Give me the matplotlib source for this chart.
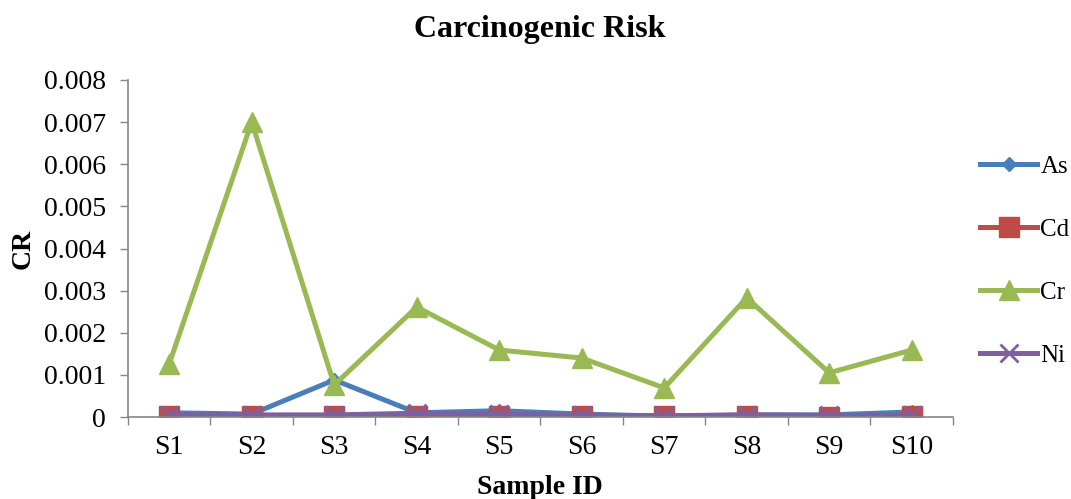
import numpy as np
import matplotlib
matplotlib.use("Agg")
import matplotlib.pyplot as plt

plt.rcParams['font.family'] = ['Liberation Serif', 'DejaVu Serif']

samples = ['S1', 'S2', 'S3', 'S4', 'S5', 'S6', 'S7', 'S8', 'S9', 'S10']

# carcinogenic risk values
cr_as = [0.00010, 0.00007, 0.00088, 0.00010, 0.00015, 0.00007, 0.00002, 0.00005, 0.00005, 0.00012]
cr_cd = [0.00002, 0.00002, 0.00002, 0.00003, 0.00002, 0.00002, 0.00002, 0.00002, 0.00001, 0.00002]
cr_cr = [0.00126, 0.00700, 0.00076, 0.00261, 0.00159, 0.00140, 0.00069, 0.00283, 0.00105, 0.00159]
cr_ni = [0.00005, 0.00005, 0.00005, 0.00009, 0.00006, 0.00004, 0.00003, 0.00005, 0.00004, 0.00004]

y_ticks = [0, 0.001, 0.002, 0.003, 0.004, 0.005, 0.006, 0.007, 0.008]

fig = plt.figure(figsize=(10.71, 4.99), dpi=100)
ax = fig.add_axes([0.1195, 0.1643, 0.7703, 0.6754])

x = np.arange(len(samples))
lw = 3.6
ax.plot(x, cr_as, color='#4A7EBB', lw=lw, marker='D', ms=7, label='As')
ax.plot(x, cr_cd, color='#BE4B48', lw=lw, marker='s', ms=15, label='Cd')
ax.plot(x, cr_cr, color='#98B954', lw=lw, marker='^', ms=15, label='Cr')
ax.plot(x, cr_ni, color='#7D60A0', lw=lw, marker='x', ms=13, mew=2, label='Ni')

ax.set_xlim(-0.5, len(samples) - 0.5)
ax.set_ylim(0, 0.008)
ax.set_yticks(y_ticks)
ax.set_yticklabels(['0' if v == 0 else f'{v:.3f}' for v in y_ticks])

# category labels in the middle, tick marks between categories
ax.set_xticks(np.arange(-0.5, len(samples)))
ax.set_xticklabels([])
ax.set_xticks(x, minor=True)
ax.set_xticklabels(samples, minor=True)
ax.tick_params(axis='x', which='minor', length=0, pad=13, labelsize=20)
ax.tick_params(axis='x', which='major', length=6, width=1, color='#868686', direction='out')
ax.tick_params(axis='y', length=6, width=1, color='#868686', direction='out', pad=10, labelsize=20)

for s in ['top', 'right']:
    ax.spines[s].set_visible(False)
for s in ['left', 'bottom']:
    ax.spines[s].set_color('#868686')
    ax.spines[s].set_linewidth(1.2)

fig.text(0.504, 0.94, 'Carcinogenic Risk', ha='center', va='center', fontsize=23, fontweight='bold')
fig.text(0.0215, 0.502, 'CR', rotation=90, ha='center', va='center', fontsize=20, fontweight='bold')
fig.text(0.504, 0.024, 'Sample ID', ha='center', va='center', fontsize=20, fontweight='bold')

fig.legend(loc='upper left', bbox_to_anchor=(0.906, 0.708), frameon=False, fontsize=18,
           handlelength=2.28, handletextpad=0.12, labelspacing=1.62, borderaxespad=0)

fig.savefig('out.png', dpi=100)
